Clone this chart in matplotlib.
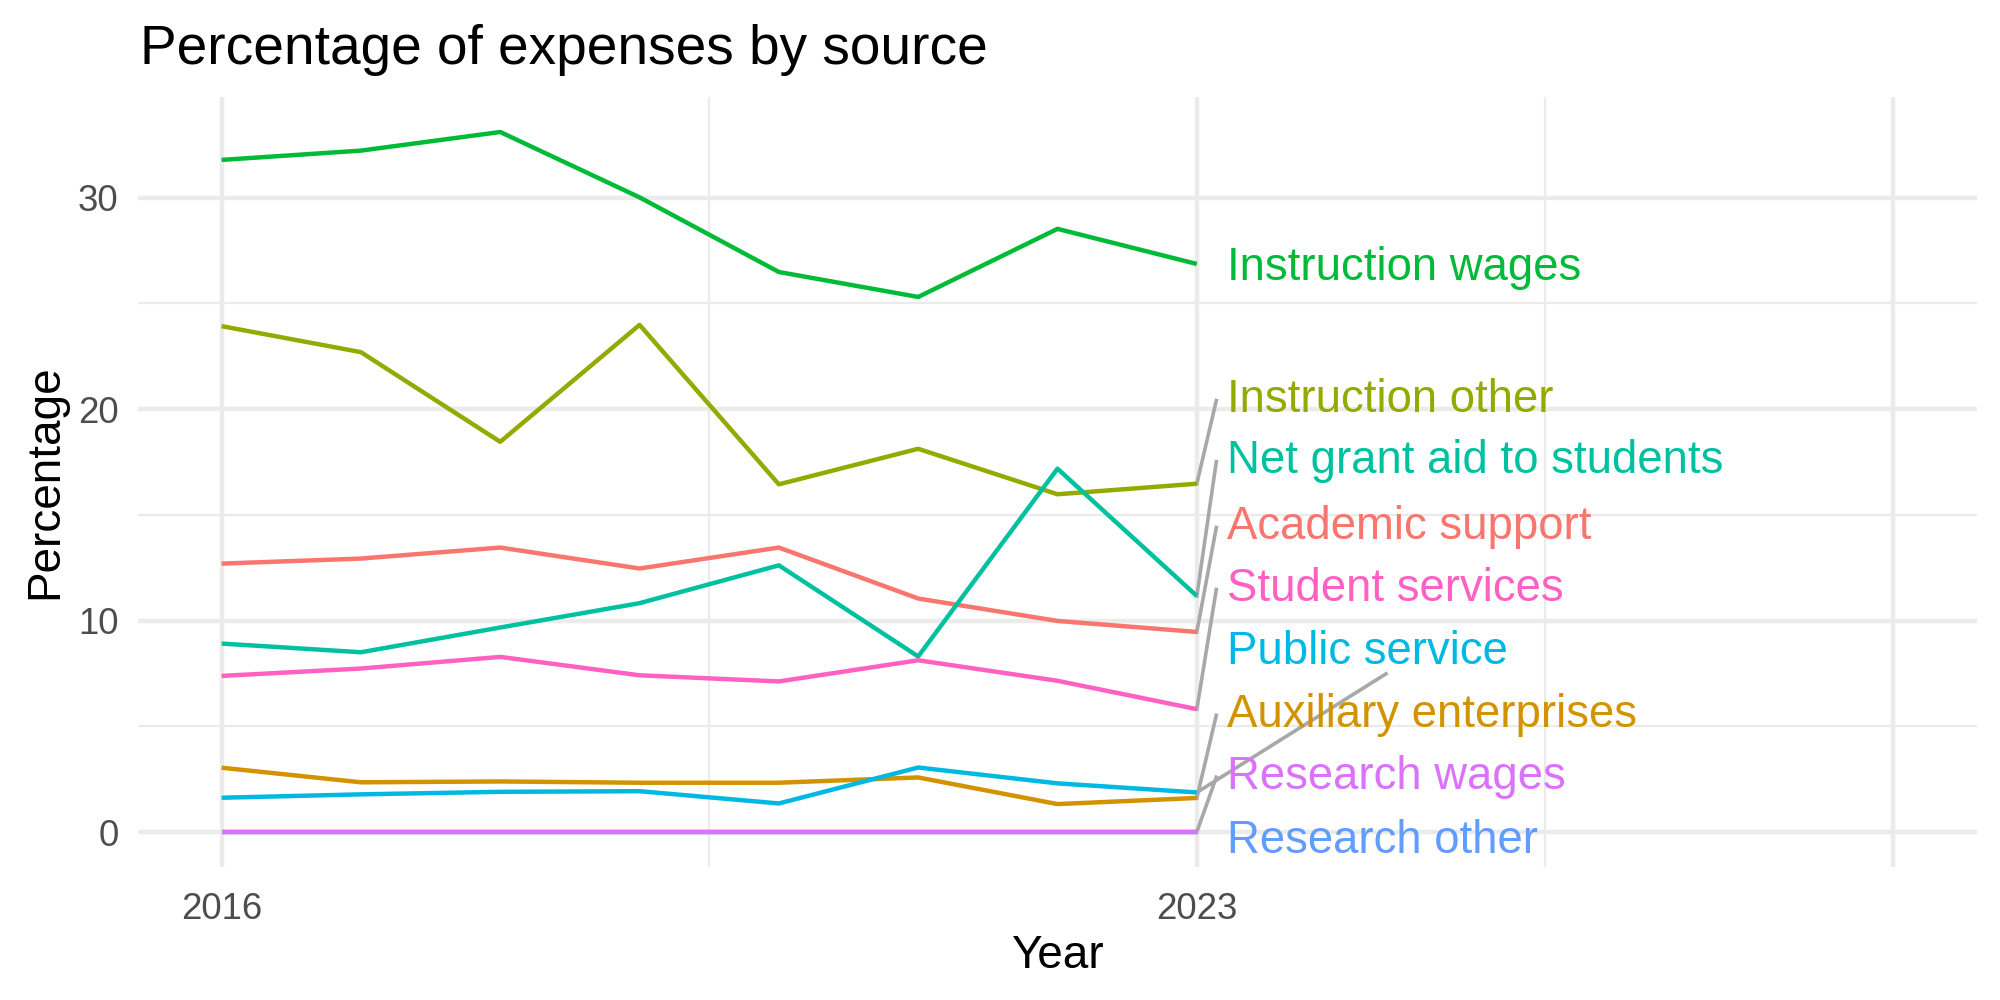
import matplotlib.pyplot as plt

plt.rcParams['font.family'] = ['Liberation Sans', 'DejaVu Sans']

years = [2016, 2017, 2018, 2019, 2020, 2021, 2022, 2023]

# series in ggplot factor order (alphabetical) -> default hue colours
sources = ["Academic support", "Auxiliary enterprises", "Instruction other",
           "Instruction wages", "Net grant aid to students", "Public service",
           "Research other", "Research wages", "Student services"]
colors = ["#F8766D", "#D39200", "#93AA00", "#00BA38", "#00C19F",
          "#00B9E3", "#619CFF", "#DB72FB", "#FF61C3"]

academic_support = [12.69, 12.93, 13.45, 12.46, 13.45, 11.04, 9.98, 9.46]
auxiliary = [3.04, 2.35, 2.39, 2.33, 2.33, 2.58, 1.32, 1.61]
instruction_other = [23.92, 22.69, 18.45, 23.98, 16.44, 18.12, 15.97, 16.47]
instruction_wages = [31.78, 32.22, 33.10, 30.01, 26.48, 25.30, 28.52, 26.86]
net_grant_aid = [8.91, 8.50, 9.67, 10.82, 12.61, 8.30, 17.18, 11.16]
public_service = [1.62, 1.78, 1.90, 1.93, 1.35, 3.05, 2.30, 1.87]
research_other = [0.0, 0.0, 0.0, 0.0, 0.0, 0.0, 0.0, 0.0]
research_wages = [0.0, 0.0, 0.0, 0.0, 0.0, 0.0, 0.0, 0.0]
student_services = [7.38, 7.73, 8.28, 7.41, 7.12, 8.12, 7.15, 5.81]

values = [academic_support, auxiliary, instruction_other, instruction_wages,
          net_grant_aid, public_service, research_other, research_wages,
          student_services]

# where the repelled labels ended up (same order as sources)
label_y = [14.6, 5.72, 20.6, 26.83, 17.71, 8.69, -0.24, 2.79, 11.67]
label_x = 2023.22
seg_x = 2023.14

fig = plt.figure(figsize=(10, 5), dpi=200)
ax = fig.add_axes([0.069, 0.133, 0.9195, 0.770])

for name, vals, col in zip(sources, values, colors):
    ax.plot(years, vals, color=col, lw=1.6, solid_capstyle='butt', zorder=3)

ymax = max(max(v) for v in values)
ax.set_ylim(-0.05 * ymax, ymax * 1.05)
ax.set_xlim(2016 - 0.05 * 12, 2028 + 0.05 * 12)

# labels + grey leader segments
fig.canvas.draw()
renderer = fig.canvas.get_renderer()
for name, vals, col, ly in zip(sources, values, colors, label_y):
    t = ax.text(label_x, ly - 0.17, name, color=col, fontsize=16.4,
                ha='left', va='center', zorder=4)
    last = vals[-1]
    if abs(ly - last) < 0.5:
        continue
    if name == "Public service":
        bb = t.get_window_extent(renderer).transformed(ax.transData.inverted())
        ex, ey = (bb.x0 + bb.x1) / 2 + 0.13, bb.y0
    else:
        ex, ey = seg_x, ly - 0.2
    ax.plot([years[-1], ex], [last, ey], color="#A8A8A8", lw=1.3, zorder=2)

ax.set_xticks([2016, 2023, 2028])
ax.set_xticklabels(["2016", "2023", ""])
ax.set_xticks([2019.5, 2025.5], minor=True)
ax.set_yticks([0, 10, 20, 30])
ax.set_yticks([5, 15, 25], minor=True)
ax.grid(which='major', color='#EBEBEB', lw=1.6, zorder=0)
ax.grid(which='minor', color='#EBEBEB', lw=0.8, zorder=0)
ax.set_axisbelow(True)
for s in ax.spines.values():
    s.set_visible(False)
ax.tick_params(which='both', length=0, labelsize=13.2, colors='#4D4D4D')
ax.tick_params(axis='x', pad=9)
ax.tick_params(axis='y', pad=7)

ax.set_xlabel("Year", fontsize=16.5, color='black')
ax.set_ylabel("Percentage", fontsize=16.5, color='black')
ax.xaxis.set_label_coords(0.5, -0.115)
ax.xaxis.label.set_va('center')
ax.yaxis.set_label_coords(-0.0503, 0.5)
ax.yaxis.label.set_va('center')

fig.text(0.07, 0.936, "Percentage of expenses by source", fontsize=19.8,
         ha='left', va='baseline')

fig.savefig("out.png", dpi=200, facecolor='white')
